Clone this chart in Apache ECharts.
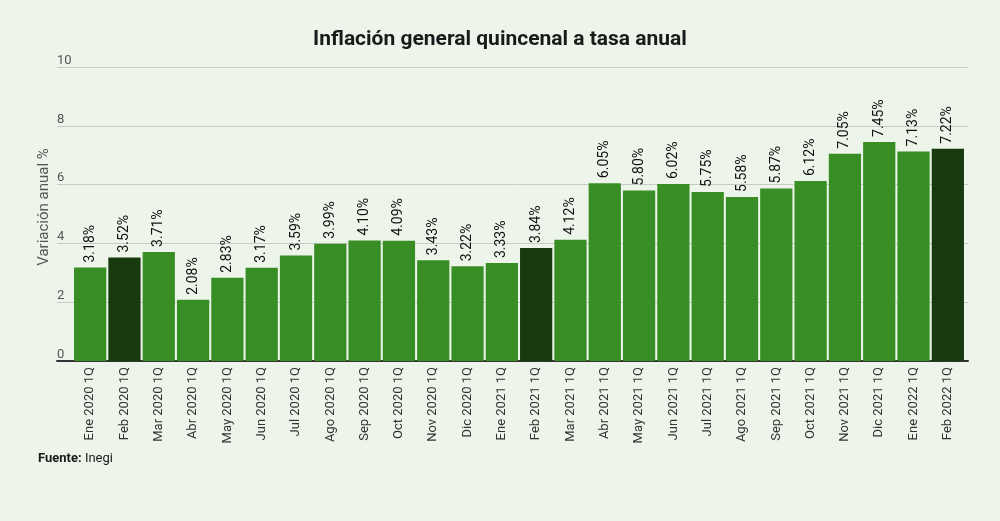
<!DOCTYPE html>
<html>
<head>
<meta charset="utf-8">
<script src="https://cdn.jsdelivr.net/npm/echarts@6/dist/echarts.min.js"></script>
<style>
html,body{margin:0;padding:0;background:#edf5ea;}
#chart{width:1000px;height:521px;}
</style>
</head>
<body>
<div id="chart"></div>
<script>
const categories = ["Ene 2020 1Q","Feb 2020 1Q","Mar 2020 1Q","Abr 2020 1Q","May 2020 1Q","Jun 2020 1Q","Jul 2020 1Q","Ago 2020 1Q","Sep 2020 1Q","Oct 2020 1Q","Nov 2020 1Q","Dic 2020 1Q","Ene 2021 1Q","Feb 2021 1Q","Mar 2021 1Q","Abr 2021 1Q","May 2021 1Q","Jun 2021 1Q","Jul 2021 1Q","Ago 2021 1Q","Sep 2021 1Q","Oct 2021 1Q","Nov 2021 1Q","Dic 2021 1Q","Ene 2022 1Q","Feb 2022 1Q"];
const values = [3.18,3.52,3.71,2.08,2.83,3.17,3.59,3.99,4.10,4.09,3.43,3.22,3.33,3.84,4.12,6.05,5.80,6.02,5.75,5.58,5.87,6.12,7.05,7.45,7.13,7.22];
const highlighted = ["Feb 2020 1Q","Feb 2021 1Q","Feb 2022 1Q"];
const yTicks = [0,2,4,6,8,10];
const yAxisTitle = 'Variación anual %';

const chart = echarts.init(document.getElementById('chart'));
const barData = values.map((v,i)=>({
  value: v,
  itemStyle: {color: highlighted.includes(categories[i]) ? '#163a0d' : '#388e25'}
}));
chart.setOption({
  backgroundColor: '#edf5ea',
  animation: false,
  title: {
    text: 'Inflación general quincenal a tasa anual',
    left: 'center', top: 24,
    textStyle: {fontFamily: 'Roboto', fontSize: 21, fontWeight: 'bold', color: '#1a1a1a'}
  },
  graphic: [{
    type: 'text', left: 38, top: 452,
    style: {
      text: '{b|Fuente:} Inegi',
      rich: {b: {fontWeight: 'bold', fontFamily: 'Roboto', fontSize: 13, fill: '#1a1a1a'}},
      fontFamily: 'Roboto', fontSize: 13, fill: '#1a1a1a'
    }
  }, {
    type: 'text', x: 44, y: 207, rotation: Math.PI / 2,
    style: {
      text: yAxisTitle, align: 'center', verticalAlign: 'middle',
      fontFamily: 'Roboto', fontSize: 15, fill: '#555'
    }
  }],
  grid: [
    {left: 57, right: 32, top: 67, bottom: 160},
    {left: 73, right: 35, top: 67, bottom: 160}
  ],
  xAxis: [
    {gridIndex: 0, type: 'category', data: categories,
     axisLine: {show: true, lineStyle: {color: '#333', width: 2}},
     axisTick: {show: false}, axisLabel: {show: false}, splitLine: {show: false}},
    {gridIndex: 1, type: 'category', data: categories,
     axisLine: {show: false}, axisTick: {show: false},
     axisLabel: {rotate: 90, interval: 0, margin: 6, fontFamily: 'Roboto', fontSize: 13, color: '#333'}}
  ],
  yAxis: [
    {gridIndex: 0, type: 'value', min: yTicks[0], max: yTicks[yTicks.length-1], interval: 2,
     axisLine: {show: false}, axisTick: {show: false},
     axisLabel: {inside: true, margin: 0, verticalAlign: 'bottom', padding: [0,0,0,0], fontFamily: 'Roboto', fontSize: 13, color: '#555'},
     splitLine: {lineStyle: {color: '#c5ccc3', width: 1}}},
    {gridIndex: 1, type: 'value', min: yTicks[0], max: yTicks[yTicks.length-1], interval: 2,
     axisLine: {show: false}, axisTick: {show: false}, axisLabel: {show: false}, splitLine: {show: false}}
  ],
  series: [{
    type: 'bar', xAxisIndex: 1, yAxisIndex: 1,
    data: barData,
    barCategoryGap: '6%',
    label: {
      show: true, position: 'top', rotate: 90, align: 'left', verticalAlign: 'middle', distance: 5,
      formatter: p => p.value.toFixed(2) + '%',
      fontFamily: 'Roboto', fontSize: 14, fontWeight: 'normal', color: '#111'
    }
  }]
});
</script>
</body>
</html>
